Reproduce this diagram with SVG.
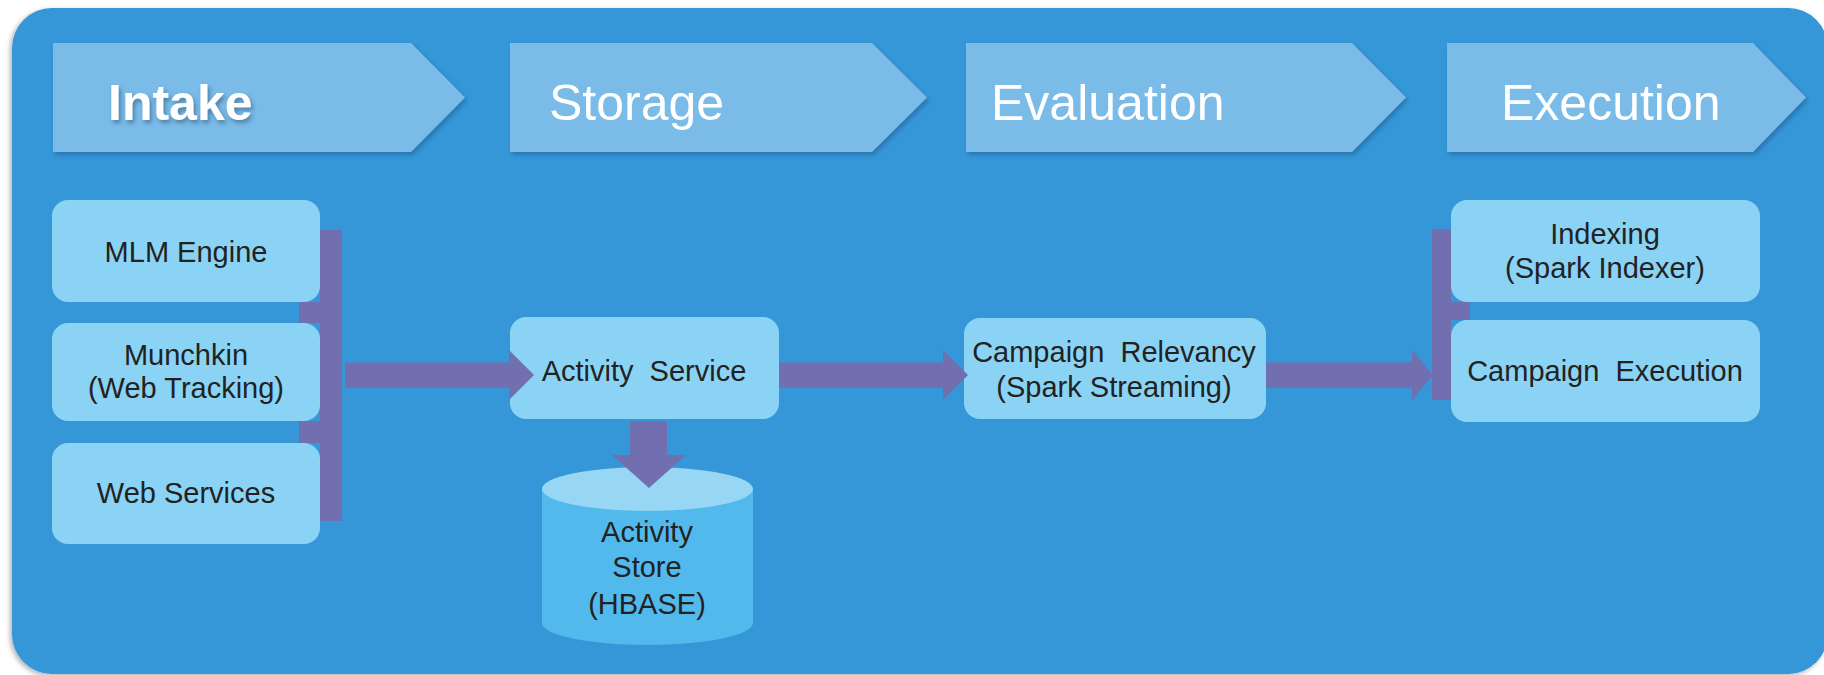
<svg xmlns="http://www.w3.org/2000/svg" width="1824" height="675" viewBox="0 0 1824 675">
<defs>
<filter id="bgsh" x="-5%" y="-5%" width="110%" height="110%"><feDropShadow dx="-2" dy="2" stdDeviation="2.5" flood-color="#000" flood-opacity="0.3"/></filter>
<filter id="hsh" x="-5%" y="-10%" width="110%" height="130%"><feDropShadow dx="2" dy="3" stdDeviation="2" flood-color="#1b4f7a" flood-opacity="0.45"/></filter>
<filter id="tsh" x="-10%" y="-20%" width="120%" height="150%"><feDropShadow dx="2" dy="3" stdDeviation="2" flood-color="#1b3f60" flood-opacity="0.5"/></filter>
</defs>
<style>
.hdr{fill:#7abbe8;filter:url(#hsh)}
.htxt{font-family:"Liberation Sans",Arial,sans-serif;font-size:50px;fill:#ffffff}
.box{fill:#8bd3f4}
.txt{font-family:"Liberation Sans",Arial,sans-serif;font-size:29px;fill:#222222;text-anchor:middle}
.conn{fill:#716fb0}
</style>
<rect x="12" y="8" width="1816" height="666" rx="40" fill="#3597d8" filter="url(#bgsh)"/>

<g id="hdr-intake">
<polygon class="hdr" points="53,43 411,43 465,97.5 411,152 53,152"/>
<text class="htxt" x="108" y="120" font-weight="bold" filter="url(#tsh)">Intake</text>
</g>
<g id="hdr-storage">
<polygon class="hdr" points="510,43 872,43 927,97.5 872,152 510,152"/>
<text class="htxt" x="549" y="120">Storage</text>
</g>
<g id="hdr-evaluation">
<polygon class="hdr" points="966,43 1352,43 1406,97.5 1352,152 966,152"/>
<text class="htxt" x="991" y="120">Evaluation</text>
</g>
<g id="hdr-execution">
<polygon class="hdr" points="1447,43 1753,43 1806,97.5 1753,152 1447,152"/>
<text class="htxt" x="1501" y="120">Execution</text>
</g>

<g id="mlm-engine">
<rect class="box" x="52" y="200" width="268" height="102" rx="16"/>
<text class="txt" x="186" y="262">MLM Engine</text>
</g>
<g id="munchkin">
<rect class="box" x="52" y="323" width="268" height="98" rx="16"/>
<text class="txt" x="186" y="365">Munchkin</text>
<text class="txt" x="186" y="398">(Web Tracking)</text>
</g>
<g id="web-services">
<rect class="box" x="52" y="443" width="268" height="101" rx="16"/>
<text class="txt" x="186" y="503">Web Services</text>
</g>
<g id="activity-service">
<rect class="box" x="510" y="317" width="269" height="102" rx="16"/>
<text class="txt" x="644" y="381" xml:space="preserve">Activity  Service</text>
</g>
<g id="activity-store">
<path d="M542,489 L542,623 A105.5,22 0 0 0 753,623 L753,489 Z" fill="#52b9ec"/>
<ellipse cx="647.5" cy="489" rx="105.5" ry="22" fill="#98d7f4"/>
<text class="txt" x="647" y="542">Activity</text>
<text class="txt" x="647" y="577">Store</text>
<text class="txt" x="647" y="614">(HBASE)</text>
</g>
<g id="campaign-relevancy">
<rect class="box" x="964" y="318" width="302" height="101" rx="16"/>
<text class="txt" x="1114" y="362" xml:space="preserve">Campaign  Relevancy</text>
<text class="txt" x="1114" y="397">(Spark Streaming)</text>
</g>
<g id="indexing">
<rect class="box" x="1451" y="200" width="309" height="102" rx="16"/>
<text class="txt" x="1605" y="244">Indexing</text>
<text class="txt" x="1605" y="278">(Spark Indexer)</text>
</g>
<g id="campaign-execution">
<rect class="box" x="1451" y="320" width="309" height="102" rx="16"/>
<text class="txt" x="1605" y="381" xml:space="preserve">Campaign  Execution</text>
</g>

<g id="connectors">
<path class="conn" d="M320,230 H342 V521 H320 Z M299,302 H320 V323 H299 Z M299,421 H320 V443 H299 Z"/>
<polygon class="conn" points="345,362.5 509,362.5 509,350 534,375 509,400 509,387.5 345,387.5"/>
<polygon class="conn" points="779,362.5 943,362.5 943,350 968,375 943,400 943,387.5 779,387.5"/>
<polygon class="conn" points="1266,362.5 1412,362.5 1412,350 1433,375 1412,400 1412,387.5 1266,387.5"/>
<path class="conn" d="M1432,229 H1451 V400 H1432 Z M1451,302 H1470 V320 H1451 Z"/>
<polygon class="conn" points="630,421 667,421 667,455 686,455 649,488 612,455 630,455"/>
</g>
</svg>
